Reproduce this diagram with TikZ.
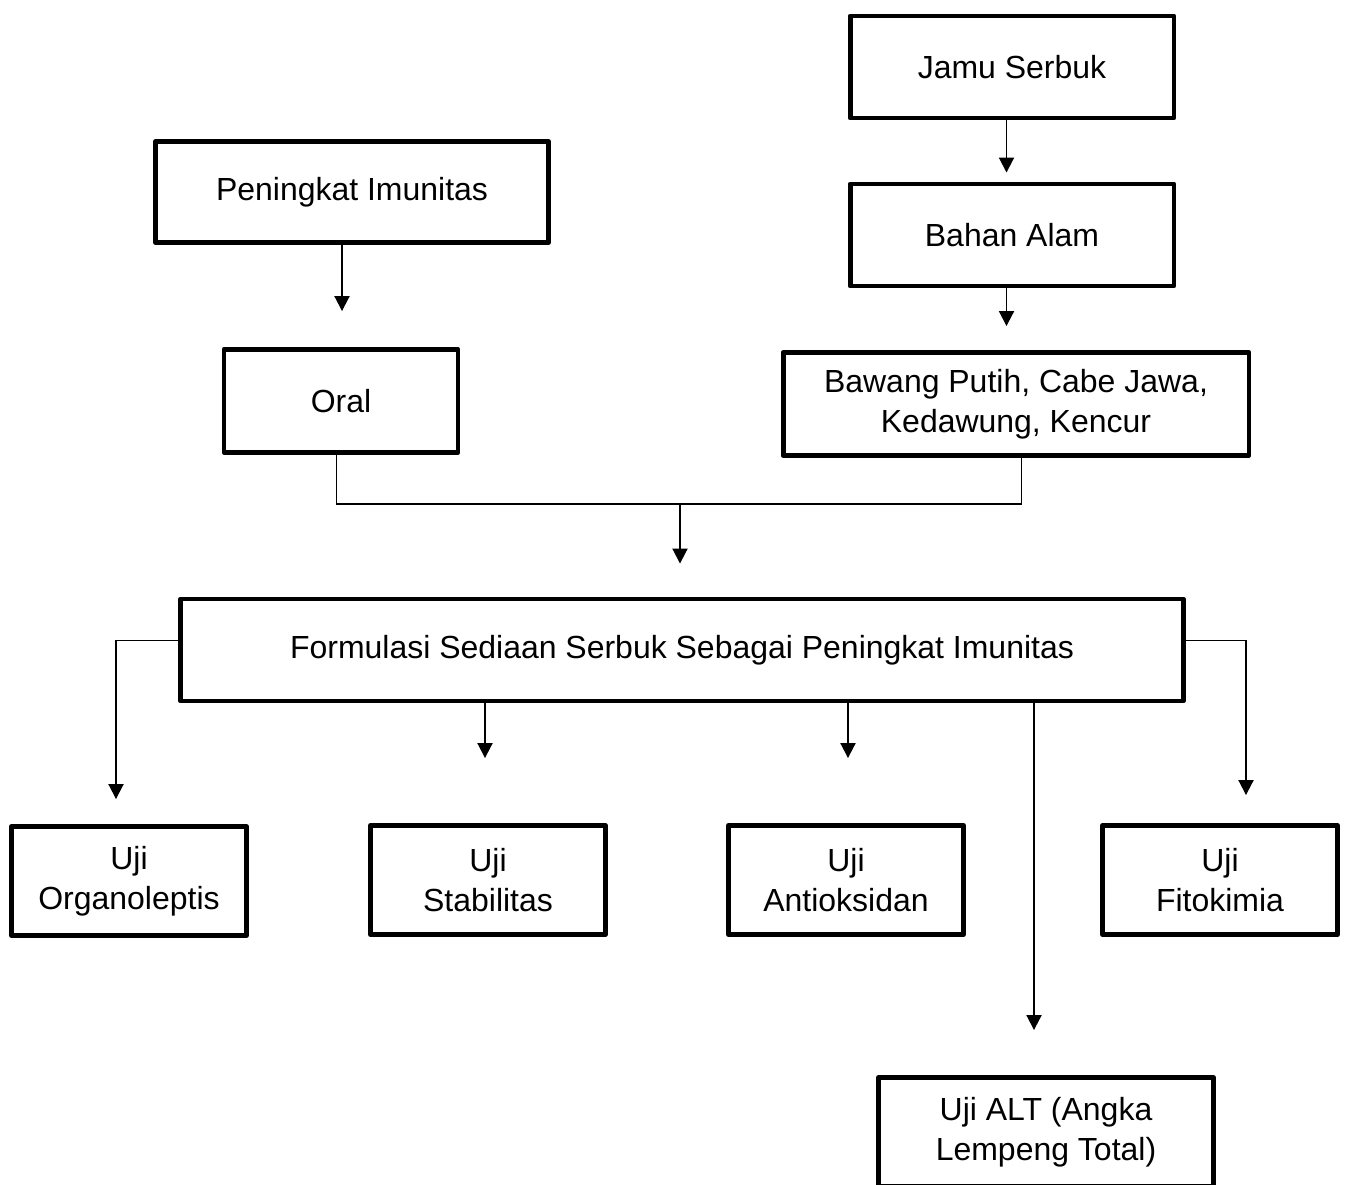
\documentclass[tikz,border=0pt]{standalone}
\usepackage{fontspec}
\setmainfont{Liberation Sans}
\usetikzlibrary{arrows.meta}
\begin{document}
\begin{tikzpicture}[
    x=0.02cm, y=-0.02cm,
    kotak/.style={rectangle, draw, line width=2.8pt, line join=round, align=center, inner sep=2pt, font=\fontsize{18.2}{22.5}\selectfont},
    panah/.style={line width=1.1pt, -{Triangle[width=0.3cm, length=0.3cm]}},
    garis/.style={line width=1.1pt},
]
\useasboundingbox (0,0) rectangle (1346,1185);
\clip (0,0) rectangle (1346,1185);

% bagian atas
\node[kotak, minimum width=6.48cm, minimum height=2.04cm] (jamu) at (1012,67) {Jamu Serbuk};
\node[kotak, minimum width=6.48cm, minimum height=2.04cm] (bahan) at (1012,235) {Bahan Alam};
\node[kotak, minimum width=9.32cm, minimum height=2.06cm] (bawang) at (1016,404) {Bawang Putih, Cabe Jawa,\\Kedawung, Kencur};
\node[kotak, minimum width=7.86cm, minimum height=2.02cm] (peningkat) at (352,192) {Peningkat Imunitas};
\node[kotak, minimum width=4.68cm, minimum height=2.06cm] (oral) at (341,401) {Oral};

% formulasi
\node[kotak, minimum width=20.06cm, minimum height=2.04cm] (formulasi) at (682,650) {Formulasi Sediaan Serbuk Sebagai Peningkat Imunitas};

% pengujian
\node[kotak, minimum width=4.7cm, minimum height=2.18cm] (organo) at (129,881) {Uji\\Organoleptis};
\node[kotak, minimum width=4.7cm, minimum height=2.18cm] (stabil) at (488,880) {Uji\\Stabilitas};
\node[kotak, minimum width=4.7cm, minimum height=2.18cm] (antiok) at (846,880) {Uji\\Antioksidan};
\node[kotak, minimum width=4.7cm, minimum height=2.18cm] (fito) at (1220,880) {Uji\\Fitokimia};
\node[kotak, minimum width=6.7cm, minimum height=2.18cm] (alt) at (1046,1132) {Uji ALT (Angka\\Lempeng Total)};

% panah
\draw[panah, shorten >=0.18cm] ([xshift=-0.11cm]jamu.south) -- ([xshift=-0.11cm]jamu.south |- bahan.north);
\draw[panah, shorten >=0.48cm] ([xshift=-0.11cm]bahan.south) -- ([xshift=-0.11cm]bahan.south |- bawang.north);
\draw[panah, shorten >=0.72cm] ([xshift=-0.2cm]peningkat.south) -- ([xshift=-0.2cm]peningkat.south |- oral.north);

\coordinate (gabung) at (680,504);
\draw[garis] ([xshift=-0.09cm]oral.south) |- (gabung) -| ([xshift=0.11cm]bawang.south);
\draw[panah, shorten >=0.66cm] (gabung) -- (gabung |- formulasi.north);

\draw[panah, shorten >=0.5cm] ([yshift=0.19cm]formulasi.west) -| ([xshift=-0.26cm]organo.north);
\draw[panah, shorten >=0.56cm] ([yshift=0.19cm]formulasi.east) -| ([xshift=0.52cm]fito.north);
\draw[panah, shorten >=1.3cm] ([xshift=-0.06cm]stabil.north |- formulasi.south) -- ([xshift=-0.06cm]stabil.north);
\draw[panah, shorten >=1.3cm] ([xshift=0.04cm]antiok.north |- formulasi.south) -- ([xshift=0.04cm]antiok.north);
\draw[panah, shorten >=0.9cm] ([xshift=-0.24cm]alt.north |- formulasi.south) -- ([xshift=-0.24cm]alt.north);

\end{tikzpicture}
\end{document}
